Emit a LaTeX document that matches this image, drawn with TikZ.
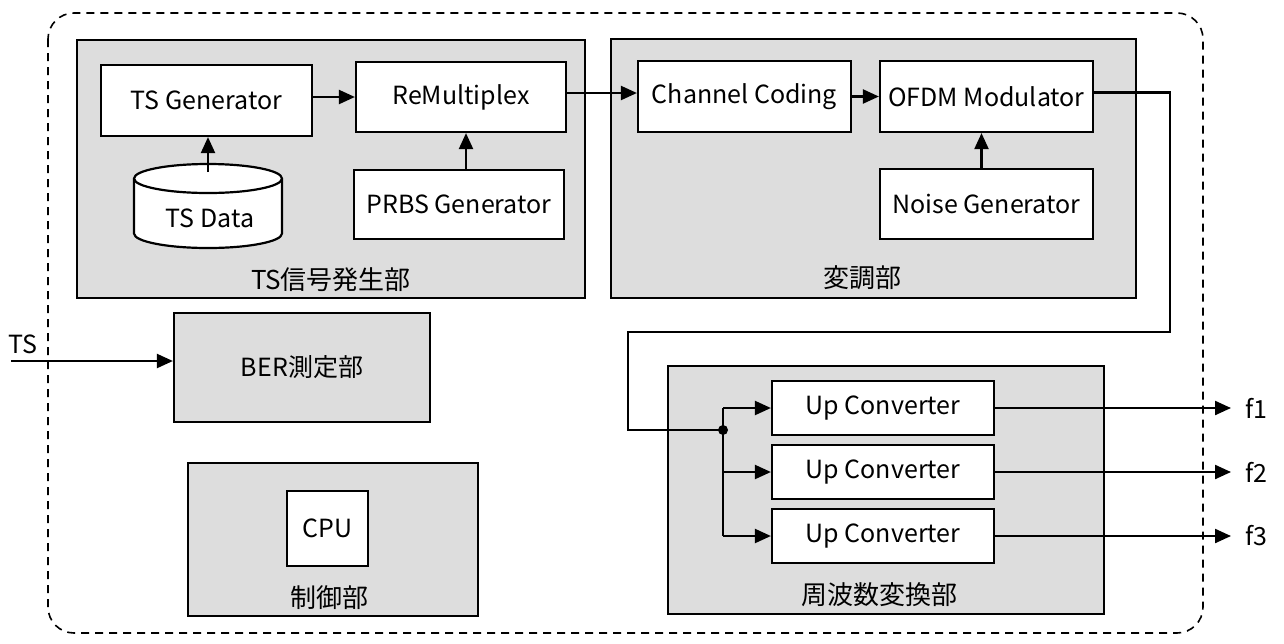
\documentclass[tikz,border=0pt]{standalone}
\usepackage{fontspec}
\setmainfont{Noto Sans CJK JP}
\usetikzlibrary{arrows.meta,calc}
\definecolor{groupgray}{HTML}{DDDDDD}
\begin{document}
\begin{tikzpicture}[x=1pt,y=-1pt,
  every node/.style={font=\fontsize{25}{29}\selectfont},
  group/.style={draw, line width=2.2pt, fill=groupgray, inner sep=0pt},
  block/.style={draw, line width=2.2pt, fill=white, inner sep=0pt},
  link/.style={line width=2.2pt},
  arr/.style={link, -{Triangle[length=16pt,width=14pt]}},
  grouplabel/.style={font=\fontsize{26}{30}\selectfont, inner sep=0pt},
  plain/.style={inner sep=0pt}]

\useasboundingbox (0,0) rectangle (1284,643);

% outer enclosure
\draw[line width=1.6pt, dash pattern=on 8pt off 6pt, rounded corners=26pt]
  (48,13) rectangle (1203,633);

% ---- TS signal generation
\node[group, minimum width=508pt, minimum height=258pt] (grpts) at (331,169) {};
\node[grouplabel] (lblts) at (331,280) {TS信号発生部};
\node[block, minimum width=211pt, minimum height=71pt] (tsgen) at (206.5,100.5) {TS Generator};
\node[block, minimum width=210pt, minimum height=70pt] (remux) at (461,97) {ReMultiplex};
\node[block, minimum width=210pt, minimum height=69pt] (prbs) at (459,204.5) {PRBS Generator};

% TS data store (cylinder)
\draw[link, fill=white]
  (134,178.5) -- (134,233.5)
  arc[start angle=180, end angle=0, x radius=74, y radius=14.5]
  -- (282,178.5)
  arc[start angle=0, end angle=-180, x radius=74, y radius=14.5] -- cycle;
\draw[link] (134,178.5) arc[start angle=180, end angle=0, x radius=74, y radius=14.5];
\node[plain] (tsdata) at (210,218) {TS Data};
\coordinate (tsdtop) at (208,172);

\draw[arr] (tsdtop) -- (tsdtop |- tsgen.south);
\draw[arr] (tsgen.east |- remux.west) -- (remux.west);
\draw[arr] ([xshift=7pt]prbs.north) -- ([xshift=5pt]remux.south);

% ---- modulation
\node[group, minimum width=525pt, minimum height=259pt] (grpmod) at (873.5,168.5) {};
\node[grouplabel] (lblmod) at (862,278) {変調部};
\node[block, minimum width=213pt, minimum height=71pt] (chcod) at (744.5,96.5) {Channel Coding};
\node[block, minimum width=213pt, minimum height=71pt] (ofdm) at (986.5,96.5) {OFDM Modulator};
\node[block, minimum width=213pt, minimum height=70pt] (noise) at (986.5,204) {Noise Generator};

\draw[arr] ([yshift=4pt]remux.east) -- ([yshift=4pt]remux.east -| chcod.west);
\draw[arr] (chcod.east) -- (ofdm.west);
\draw[arr] ([xshift=-5pt]noise.north) -- ([xshift=-5pt]ofdm.south);

% ---- BER measurement
\node[group, minimum width=256pt, minimum height=109pt] (ber) at (302,367.5) {BER測定部};
\node[plain] (tsin) at (23,344) {TS};
\coordinate (tsstart) at (11,361);
\draw[arr] (tsstart) -- (tsstart -| ber.west);

% ---- control
\node[group, minimum width=290pt, minimum height=153pt] (ctrl) at (333,539.5) {};
\node[block, minimum width=81pt, minimum height=75pt] (cpu) at (327.5,528.5) {CPU};
\node[grouplabel] (lblctrl) at (329,598) {制御部};

% ---- frequency conversion
\node[group, minimum width=436pt, minimum height=248pt] (grpfreq) at (886,490) {};
\node[grouplabel] (lblfreq) at (879,595) {周波数変換部};
\node[block, minimum width=222pt, minimum height=54pt] (uc1) at (883,408) {Up Converter};
\node[block, minimum width=222pt, minimum height=54pt] (uc2) at (883,472) {Up Converter};
\node[block, minimum width=222pt, minimum height=54pt] (uc3) at (883,536) {Up Converter};

\node[plain, anchor=west] (f1) at (1245,408) {f1};
\node[plain, anchor=west] (f2) at (1245,472) {f2};
\node[plain, anchor=west] (f3) at (1245,536) {f3};

% modulator output routed down to the converters
\coordinate (bendA) at (1170,332);
\coordinate (bendB) at (628,430);
\coordinate (junc) at (723,430);
\draw[link] ([yshift=4pt]ofdm.east) -| (bendA) -| (bendB) -- (junc);
\draw[link] (uc1.west -| junc) -- (uc3.west -| junc);
\fill (junc) circle[radius=5pt];
\foreach \u in {uc1,uc2,uc3}
  \draw[arr] (\u.west -| junc) -- (\u.west);
\foreach \u/\f in {uc1/f1,uc2/f2,uc3/f3}
  \draw[arr] (\u.east) -- ([xshift=-14pt]\f.west);

\end{tikzpicture}
\end{document}
